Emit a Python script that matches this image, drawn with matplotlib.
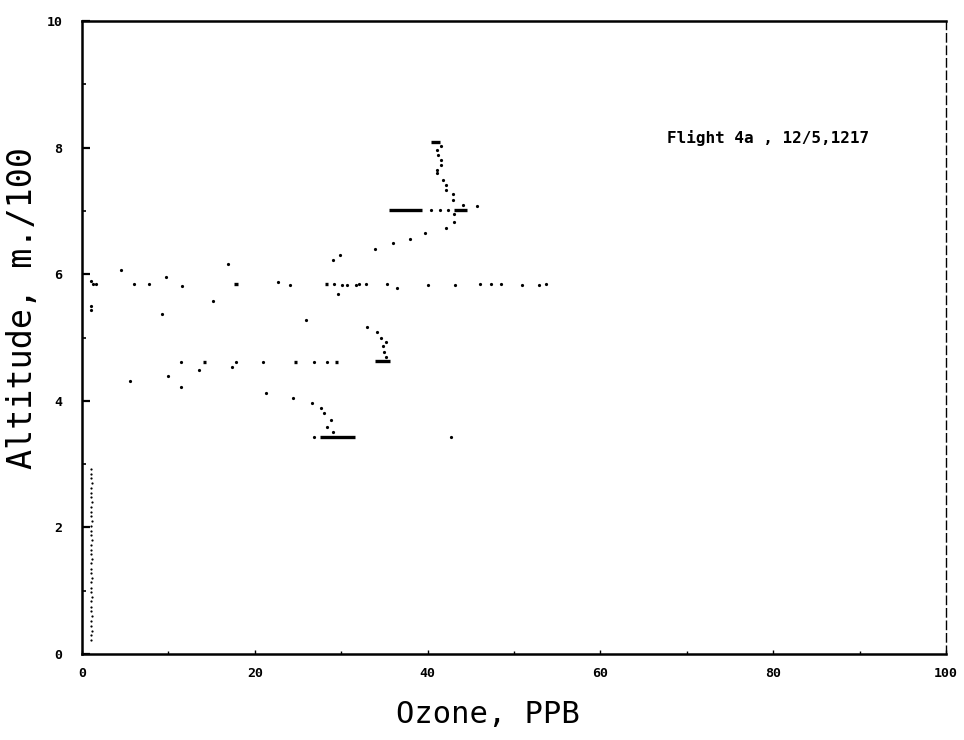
import matplotlib
matplotlib.use('Agg')
import matplotlib.pyplot as plt
from matplotlib.ticker import MultipleLocator

# ozone (ppb) / altitude (m/100)
ozone = [41.6, 41.1, 41.2, 41.6, 41.6, 41.1, 41.1, 41.8, 42.1, 42.1, 42.9, 42.9,
         44.1, 45.7, 40.4, 41.4, 42.3, 43.1, 43.1, 42.1, 39.7, 38.0, 36.0, 33.9,
         29.9, 29.1,
         1.3, 1.6, 6.0, 7.7, 11.6, 24.1, 29.2, 30.1, 30.7, 31.7, 32.1, 32.9, 35.3,
         36.4, 40.0, 43.2, 46.1, 47.3, 48.5, 50.9, 52.9, 53.7,
         4.5, 16.9, 9.7, 1.0, 22.7, 29.6, 15.2, 1.0, 1.0, 9.2, 25.9,
         33.0, 34.1, 34.6, 35.2, 34.8, 34.9, 35.2,
         11.5, 17.8, 21.0, 26.8, 28.4,
         13.5, 17.4, 5.5, 9.9, 11.5, 21.3, 24.4, 26.6, 27.7, 28.0, 28.8, 28.4,
         29.1, 26.9, 42.7]
altitude = [8.03, 7.96, 7.88, 7.80, 7.72, 7.64, 7.60, 7.49, 7.41, 7.33, 7.27, 7.18,
            7.10, 7.07, 7.01, 7.01, 7.01, 6.95, 6.83, 6.73, 6.65, 6.55, 6.50, 6.40,
            6.30, 6.22,
            5.84, 5.84, 5.84, 5.84, 5.82, 5.83, 5.84, 5.83, 5.83, 5.83, 5.84, 5.84, 5.84,
            5.78, 5.83, 5.83, 5.84, 5.84, 5.84, 5.83, 5.83, 5.85,
            6.06, 6.16, 5.95, 5.90, 5.88, 5.68, 5.58, 5.50, 5.43, 5.37, 5.27,
            5.17, 5.08, 5.00, 4.93, 4.86, 4.77, 4.69,
            4.62, 4.62, 4.62, 4.62, 4.62,
            4.48, 4.54, 4.31, 4.39, 4.22, 4.13, 4.04, 3.96, 3.88, 3.80, 3.70, 3.59,
            3.51, 3.43, 3.43]

# dotted column near zero at the bottom of the flight
col_ozone = [1.0, 1.0, 1.1, 1.0, 1.0, 1.1, 1.0, 1.0, 1.0, 1.1, 1.0, 1.0, 1.0,
             1.1, 1.0, 1.0, 1.0, 1.1, 1.0, 1.0, 1.0, 1.1, 1.0, 1.0, 1.0, 1.1,
             1.0, 1.0, 1.0, 1.1, 1.0, 1.0, 1.0, 1.1, 1.0, 1.0, 1.0]
col_alt = [0.22, 0.30, 0.37, 0.45, 0.52, 0.60, 0.68, 0.75, 0.83, 0.90, 0.98, 1.05,
           1.13, 1.20, 1.28, 1.35, 1.43, 1.50, 1.58, 1.65, 1.73, 1.80, 1.88, 1.95,
           2.03, 2.10, 2.18, 2.25, 2.33, 2.40, 2.48, 2.55, 2.63, 2.70, 2.78, 2.85, 2.93]

# short level runs where the dots pile up
seg_x0 = [40.4, 35.5, 43.1, 33.9, 27.5, 28.1, 17.6, 14.0, 24.5, 29.3]
seg_x1 = [41.4, 39.3, 44.6, 35.6, 31.6, 28.5, 18.0, 14.3, 24.9, 29.6]
seg_y = [8.09, 7.01, 7.02, 4.63, 3.43, 5.84, 5.84, 4.62, 4.62, 4.62]

x_ticks = [0, 20, 40, 60, 80, 100]
y_ticks = [0, 2, 4, 6, 8, 10]

mono = 'DejaVu Sans Mono'

fig = plt.figure(figsize=(9.64, 7.40), dpi=100)
ax = fig.add_axes([0.0851, 0.1162, 0.8963, 0.8554])

ax.plot(ozone, altitude, 'o', color='black', markersize=2.3, markeredgewidth=0)
ax.plot(col_ozone, col_alt, 'o', color='black', markersize=1.6, markeredgewidth=0)
ax.hlines(seg_y, seg_x0, seg_x1, color='black', linewidth=2.4)

ax.set_xlim(0, 100)
ax.set_ylim(0, 10)
ax.set_xticks(x_ticks)
ax.set_yticks(y_ticks)
ax.xaxis.set_minor_locator(MultipleLocator(10))
ax.yaxis.set_minor_locator(MultipleLocator(1))
ax.set_xticklabels([str(v) for v in x_ticks], fontfamily=mono, fontweight='bold', fontsize=9.5)
ax.set_yticklabels([str(v) for v in y_ticks], fontfamily=mono, fontweight='bold', fontsize=9.5)
ax.tick_params(which='major', direction='in', length=6, width=1.6, pad=8)
ax.tick_params(which='minor', direction='in', length=3, width=1.2)
ax.tick_params(axis='y', which='major', pad=14)
ax.tick_params(axis='x', which='major', length=3, width=1.0, pad=9)
ax.tick_params(axis='x', which='minor', length=2, width=1.0)

for side in ['left', 'bottom', 'top']:
    ax.spines[side].set_linewidth(1.8)
ax.spines['right'].set_linewidth(1.0)
ax.spines['right'].set_linestyle((0, (6, 3)))

ax.set_xlabel('Ozone, PPB', fontfamily=mono, fontsize=22)
ax.set_ylabel('Altitude, m./100', fontfamily=mono, fontsize=24)
ax.xaxis.set_label_coords(0.47, -0.072)
ax.yaxis.set_label_coords(-0.05, 0.547)

ax.text(67.7, 8.15, 'Flight 4a , 12/5,1217', fontfamily=mono, fontsize=11.5,
        fontweight='bold', ha='left', va='center')

fig.savefig('out.png', dpi=100)
